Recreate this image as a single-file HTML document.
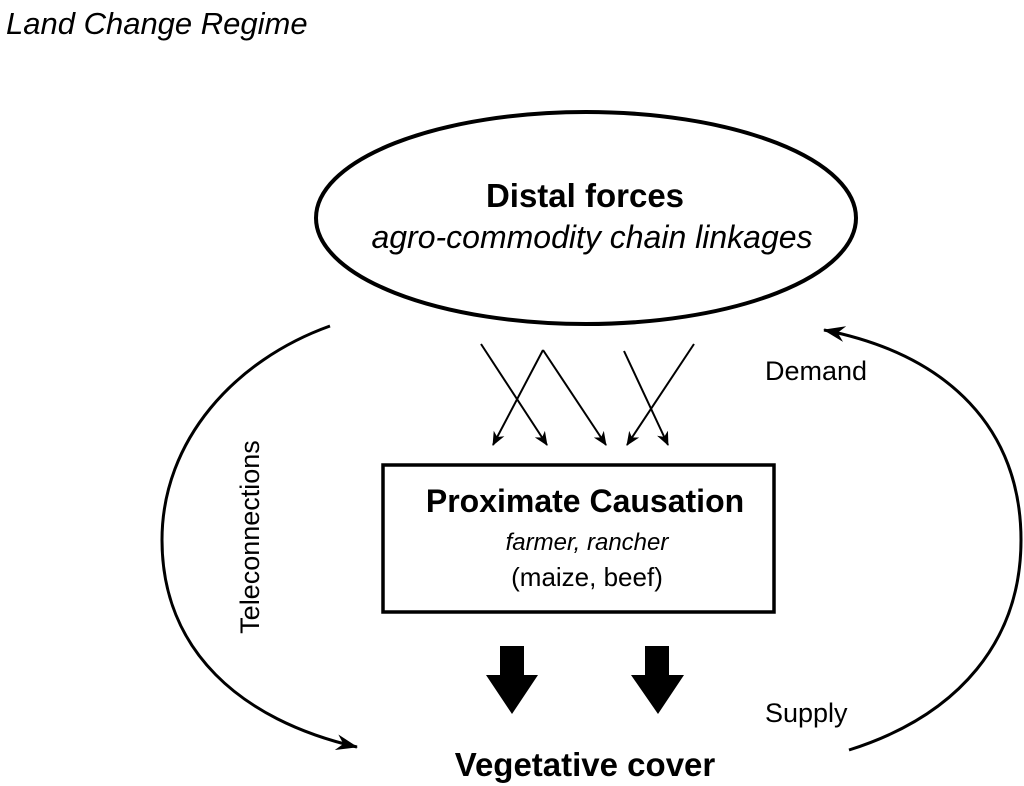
<!DOCTYPE html>
<html><head><style>
body{margin:0;background:#fff;}
svg{display:block;font-family:"Liberation Sans",sans-serif;}
</style></head><body>
<svg width="1024" height="786" viewBox="0 0 1024 786">
<defs>
<marker id="a" markerWidth="14" markerHeight="12" refX="13" refY="6" orient="auto" markerUnits="userSpaceOnUse" viewBox="0 0 14 12">
<path d="M0,0 L14,6 L0,12 L4,6 Z" fill="#000"/></marker>
<marker id="b" markerWidth="22" markerHeight="16" refX="21" refY="8" orient="auto" markerUnits="userSpaceOnUse" viewBox="0 0 22 16">
<path d="M0,0 L22,8 L0,16 L7,8 Z" fill="#000"/></marker>
</defs>
<text x="6" y="34" font-size="31" font-style="italic">Land Change Regime</text>
<ellipse cx="586" cy="218" rx="270" ry="106" fill="none" stroke="#000" stroke-width="4"/>
<text x="585" y="207" font-size="33" font-weight="bold" text-anchor="middle">Distal forces</text>
<text x="592" y="248" font-size="32" font-style="italic" text-anchor="middle">agro-commodity chain linkages</text>
<g stroke="#000" stroke-width="2" fill="none" marker-end="url(#a)">
<line x1="481" y1="344" x2="547" y2="445"/>
<line x1="543" y1="350" x2="493" y2="445"/>
<line x1="543" y1="350" x2="606" y2="445"/>
<line x1="624" y1="351" x2="668" y2="445"/>
<line x1="694" y1="344" x2="627" y2="445"/>
</g>
<rect x="383" y="465" width="391" height="147" fill="none" stroke="#000" stroke-width="3.5"/>
<text x="585" y="512" font-size="32" font-weight="bold" text-anchor="middle">Proximate Causation</text>
<text x="587" y="550" font-size="24" font-style="italic" text-anchor="middle">farmer, rancher</text>
<text x="587" y="586" font-size="26" text-anchor="middle">(maize, beef)</text>
<path d="M500,646 h24 v29 h14 l-26,39 l-26,-39 h14 z" fill="#000"/>
<path d="M645,646 h24 v29 h15 l-26,39 l-27,-39 h14 z" fill="#000"/>
<text x="585" y="776" font-size="33" font-weight="bold" text-anchor="middle">Vegetative cover</text>
<path d="M330,326 C235,360 162,440 162,540 C162,650 240,720 357,747" fill="none" stroke="#000" stroke-width="3" marker-end="url(#b)"/>
<path d="M849,750 C960,715 1021,640 1021,540 C1021,430 950,355 824,330" fill="none" stroke="#000" stroke-width="3" marker-end="url(#b)"/>
<text x="250" y="537" font-size="27" text-anchor="middle" transform="rotate(-90 250 537)" dy="9">Teleconnections</text>
<text x="765" y="380" font-size="27">Demand</text>
<text x="765" y="722" font-size="27">Supply</text>
</svg>
</body></html>
